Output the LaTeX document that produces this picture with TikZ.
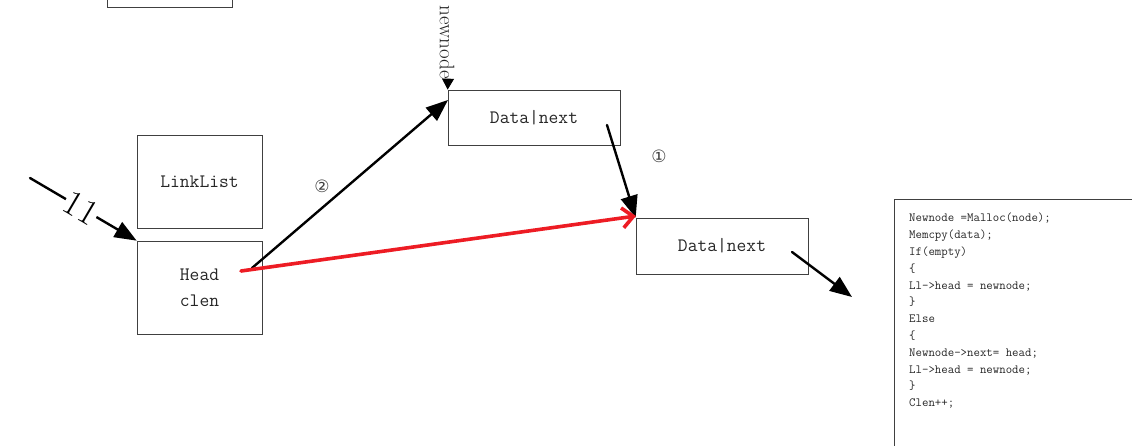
\documentclass[tikz,border=0pt]{standalone}
\usepackage{fontspec}
\newfontfamily\symfont{DejaVu Sans}
\usetikzlibrary{arrows.meta}
\definecolor{redarrow}{RGB}{237,28,36}
\begin{document}
\begin{tikzpicture}[x=1pt,y=-1pt,
  box/.style={draw=black!75, line width=0.7pt, inner sep=0pt, align=center,
    font=\ttfamily\fontsize{19}{26}\selectfont, text=black!85},
  blk/.style={line width=2.4pt, line cap=round, -{Triangle[length=22pt,width=17pt]}},
  redarr/.style={draw=redarrow, line width=3.6pt, line cap=round, -{Straight Barb[length=11pt,width=20pt,line width=3.6pt]}},
  num/.style={font=\symfont\fontsize{17}{17}\selectfont, text=black!75}]
\useasboundingbox (0,0) rectangle (1132,445);
% boxes
\node[box, minimum width=125pt, minimum height=94pt] (top) at (169.5,-40) {};
\node[box, minimum width=125pt, minimum height=93pt] (ll) at (199.5,181.5) {LinkList};
\node[box, minimum width=125pt, minimum height=93pt] (head) at (199.5,287.5) {Head\\clen};
\node[box, minimum width=172pt, minimum height=55pt] (b1) at (534,117.5) {Data|next};
\node[box, minimum width=172pt, minimum height=56pt] (b2) at (722,246) {Data|next};
\node[draw=black!75, line width=0.7pt, anchor=north west, minimum width=300pt, minimum height=300pt] (code) at (894,199) {};
\node[anchor=north west, align=left, inner sep=0pt, text=black!85,
  font=\ttfamily\fontsize{12.5}{16.8}\selectfont] (codetext) at (909,213) {%
Newnode =Malloc(node);\\
Memcpy(data);\\
If(empty)\\
\{\\
Ll->head = newnode;\\
\}\\
Else\\
\{\\
Newnode->next= head;\\
Ll->head = newnode;\\
\}\\
Clen++;};
% newnode label
\node[rotate=-90, anchor=east, inner sep=0pt, font=\rmfamily\fontsize{21}{21}\selectfont, text=black!85] (nn) at (447,79) {newnode};
\coordinate (nnend) at (448,79);
\draw[-{Triangle[length=11pt,width=12pt]}, line width=0.8pt] (nnend) -- (b1.north west);
% coordinates
\coordinate (s11) at (30,178);
\coordinate (hs) at (252,268);
\coordinate (hr) at (241,271);
\coordinate (b1s) at (607,125);
\coordinate (b2s) at (792,252);
\coordinate (outend) at (852,297);
\coordinate (b1t) at (448,100);
\coordinate (b2t) at (636,216);
% arrows
\draw[blk] (s11) -- node[pos=0.48, sloped, fill=white, inner sep=1pt, font=\rmfamily\fontsize{36}{36}\selectfont] (lab11) {11} (head.north west);
\draw[blk] (hs) -- (b1t);
\draw[blk] (b1s) -- (b2.north west);
\draw[blk] (b2s) -- (outend);
\draw[redarr] (hr) -- (b2t);
% numbers
\node[num] (n2) at (322,186) {②};
\node[num] (n1) at (659,156) {①};
\end{tikzpicture}
\end{document}
